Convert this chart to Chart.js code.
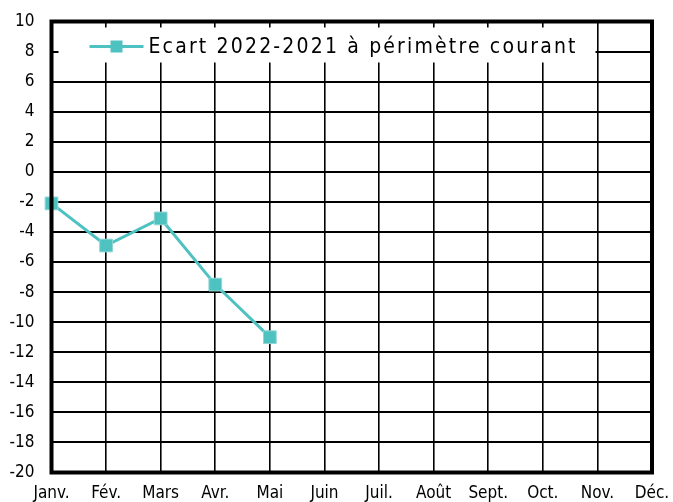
<!DOCTYPE html>
<html>
<head>
<meta charset="utf-8">
<script src="https://cdn.jsdelivr.net/npm/chart.js@4"></script>
<style>
  html, body { margin: 0; padding: 0; background: #fff; }
  #wrap { width: 673px; height: 502px; position: relative; }
</style>
</head>
<body>
<div id="wrap"><canvas id="c" width="673" height="502"></canvas></div>
<script>
const months = ['Janv.', 'Fév.', 'Mars', 'Avr.', 'Mai', 'Juin', 'Juil.', 'Août', 'Sept.', 'Oct.', 'Nov.', 'Déc.'];
const ecart = [-2.1, -4.9, -3.1, -7.5, -11.0];
const seriesLabel = 'Ecart 2022-2021 à périmètre courant';
const yMin = -20, yMax = 10, yStep = 2;

const TEAL = '#4ec2c1';
const FONT = '"DejaVu Sans Condensed", "DejaVu Sans", sans-serif';

const framePlugin = {
  id: 'frame',
  afterDraw(chart) {
    const {ctx, chartArea: a} = chart;
    ctx.save();
    ctx.strokeStyle = '#000';
    ctx.lineWidth = 4;
    ctx.strokeRect(a.left, a.top, a.right - a.left, a.bottom - a.top);
    ctx.restore();
  }
};

const legendPlugin = {
  id: 'innerLegend',
  beforeDatasetsDraw(chart) {
    const {ctx, chartArea: a} = chart;
    const ds = chart.data.datasets[0];
    ctx.save();
    ctx.fillStyle = '#fff';
    ctx.fillRect(a.left + 7, a.top + 6, 537, 35);
    const y = a.top + 25;
    ctx.strokeStyle = TEAL;
    ctx.lineWidth = 3;
    ctx.beginPath();
    ctx.moveTo(a.left + 38, y);
    ctx.lineTo(a.left + 92, y);
    ctx.stroke();
    ctx.fillStyle = TEAL;
    ctx.fillRect(a.left + 59, y - 6, 12, 12);
    ctx.fillStyle = '#000';
    ctx.font = '21px ' + FONT;
    ctx.textBaseline = 'middle';
    const text = ds.label;
    const w = ctx.measureText(text).width;
    const target = 427;
    ctx.letterSpacing = ((target - w) / (text.length - 1)) + 'px';
    ctx.fillText(text, a.left + 97, y + 1);
    ctx.restore();
  }
};

new Chart(document.getElementById('c'), {
  type: 'line',
  data: {
    labels: months,
    datasets: [{
      label: seriesLabel,
      data: ecart,
      borderColor: TEAL,
      backgroundColor: TEAL,
      borderWidth: 3,
      pointStyle: 'rect',
      pointRadius: 9,
      pointBorderWidth: 1,
      pointBorderColor: '#8fd6d5',
      pointBackgroundColor: TEAL,
      tension: 0,
      clip: false
    }]
  },
  options: {
    responsive: false,
    animation: false,
    devicePixelRatio: 1,
    layout: { padding: { left: 0, right: 21, top: 21.5, bottom: 0 } },
    plugins: { legend: { display: false }, tooltip: { enabled: false } },
    scales: {
      x: {
        type: 'category',
        offset: false,
        grid: { color: '#000', lineWidth: 1.6, drawTicks: false, offset: false },
        border: { display: false },
        ticks: { color: '#000', font: { family: FONT, size: 17 }, padding: 11, maxRotation: 0, autoSkip: false },
        afterFit(s) { s.height = 29.5; s.paddingLeft = 0; s.paddingRight = 0; }
      },
      y: {
        min: yMin, max: yMax,
        grid: { color: '#000', lineWidth: 2, drawTicks: false },
        border: { display: false },
        ticks: { stepSize: yStep, color: '#000', font: { family: FONT, size: 17 }, padding: 17 },
        afterFit(s) { s.width = 51.5; s.paddingTop = 0; s.paddingBottom = 0; }
      }
    }
  },
  plugins: [legendPlugin, framePlugin]
});
</script>
</body>
</html>
